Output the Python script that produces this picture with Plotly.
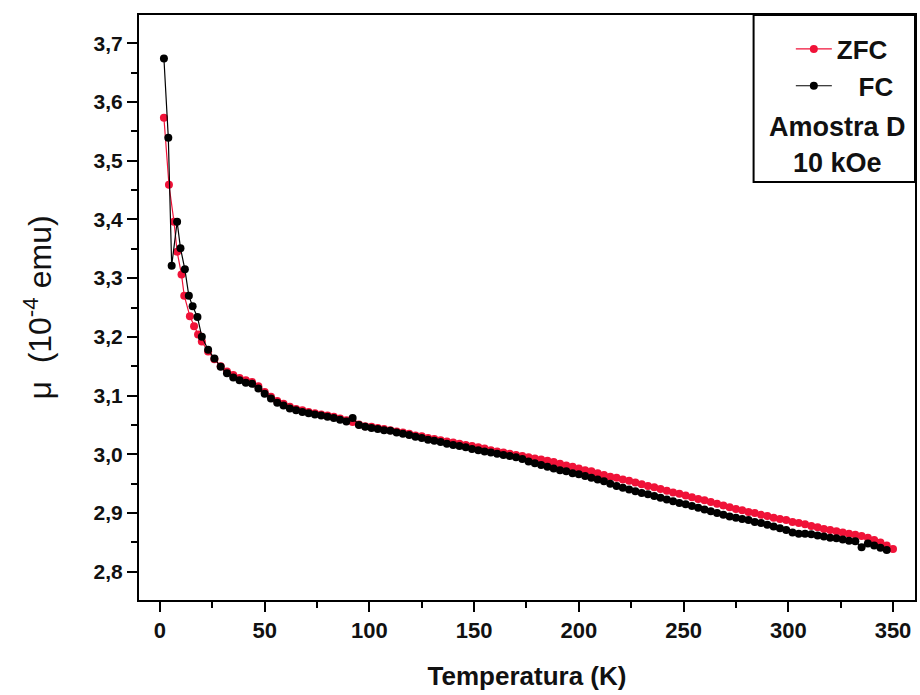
import plotly.graph_objects as go

# ---------------- data ----------------
T_zfc = [1.9, 4.3, 6.7, 8.2, 10.3, 11.6, 14.3, 16.3, 18.2,
         20, 23, 26, 29, 32, 35, 38, 41, 44, 47, 50, 53, 56, 59, 62, 65, 68, 71, 74, 77,
         80, 83, 86, 89, 92, 95, 98, 101, 104, 107, 110, 113, 116, 119, 122, 125, 128, 131,
         134, 137, 140, 143, 146, 149, 152, 155, 158, 161, 164, 167, 170, 173, 176, 179, 182,
         185, 188, 191, 194, 197, 200, 203, 206, 209, 212, 215, 218, 221, 224, 227, 230, 233,
         236, 239, 242, 245, 248, 251, 254, 257, 260, 263, 266, 269, 272, 275, 278, 281, 284,
         287, 290, 293, 296, 299, 302, 305, 308, 311, 314, 317, 320, 323, 326, 329, 332, 335,
         338, 341, 344, 347, 350]
mu_zfc = [3.573, 3.459, 3.396, 3.345, 3.306, 3.270, 3.235, 3.218, 3.204,
          3.192, 3.175, 3.162, 3.150, 3.141, 3.135, 3.130, 3.126, 3.123, 3.116, 3.106, 3.098,
          3.091, 3.086, 3.081, 3.077, 3.075, 3.072, 3.070, 3.068,
          3.066, 3.064, 3.061, 3.058, 3.055, 3.051, 3.048, 3.047, 3.045, 3.043, 3.041, 3.039,
          3.037, 3.035, 3.032, 3.031, 3.028, 3.026,
          3.024, 3.022, 3.020, 3.018, 3.016, 3.014, 3.012, 3.010, 3.007, 3.005, 3.003, 3.001,
          2.999, 2.997, 2.995, 2.993, 2.991,
          2.989, 2.987, 2.984, 2.981, 2.979, 2.976, 2.973, 2.971, 2.968, 2.965, 2.962, 2.960,
          2.957, 2.955, 2.952, 2.949, 2.946,
          2.944, 2.941, 2.938, 2.935, 2.933, 2.930, 2.927, 2.924, 2.922, 2.919, 2.916, 2.913,
          2.910, 2.907, 2.905, 2.902, 2.900,
          2.897, 2.895, 2.892, 2.890, 2.888, 2.885, 2.883, 2.881, 2.878, 2.876, 2.873, 2.871,
          2.869, 2.867, 2.865, 2.863, 2.861,
          2.858, 2.854, 2.850, 2.845, 2.839]

T_fc = [1.9, 4.0, 5.6, 8.2, 9.8, 11.9, 13.8, 15.6, 17.9,
        20, 23, 26, 29, 32, 35, 38, 41, 44, 47, 50, 53, 56, 59, 62, 65, 68, 71, 74, 77,
        80, 83, 86, 89, 92, 95, 98, 101, 104, 107, 110, 113, 116, 119, 122, 125, 128, 131,
        134, 137, 140, 143, 146, 149, 152, 155, 158, 161, 164, 167, 170, 173, 176, 179, 182,
        185, 188, 191, 194, 197, 200, 203, 206, 209, 212, 215, 218, 221, 224, 227, 230, 233,
        236, 239, 242, 245, 248, 251, 254, 257, 260, 263, 266, 269, 272, 275, 278, 281, 284,
        287, 290, 293, 296, 299, 302, 305, 308, 311, 314, 317, 320, 323, 326, 329, 332, 335,
        338, 341, 344, 347, 350]
mu_fc = [3.674, 3.539, 3.321, 3.396, 3.351, 3.315, 3.270, 3.252, 3.234,
         3.200, 3.178, 3.163, 3.149, 3.138, 3.131, 3.126, 3.122, 3.120, 3.112, 3.103, 3.095,
         3.088, 3.083, 3.078, 3.075, 3.072, 3.070, 3.068, 3.066,
         3.064, 3.062, 3.059, 3.056, 3.062, 3.050, 3.047, 3.045, 3.043, 3.041, 3.040, 3.037,
         3.035, 3.033, 3.030, 3.028, 3.025, 3.023,
         3.021, 3.018, 3.016, 3.014, 3.012, 3.009, 3.007, 3.005, 3.003, 3.001, 2.999, 2.997,
         2.995, 2.992, 2.988, 2.985, 2.982,
         2.979, 2.976, 2.973, 2.971, 2.968, 2.966, 2.963, 2.960, 2.957, 2.954, 2.950, 2.946,
         2.943, 2.940, 2.937, 2.934, 2.932,
         2.929, 2.926, 2.923, 2.920, 2.917, 2.915, 2.912, 2.909, 2.906, 2.903, 2.900, 2.897,
         2.894, 2.892, 2.890, 2.888, 2.885,
         2.883, 2.880, 2.877, 2.874, 2.871, 2.867, 2.865, 2.865, 2.864, 2.862, 2.860, 2.858,
         2.857, 2.855, 2.853, 2.852,
         2.842, 2.848, 2.845, 2.841, 2.837]

x_ticks = [0, 50, 100, 150, 200, 250, 300, 350]
y_ticks = [2.8, 2.9, 3.0, 3.1, 3.2, 3.3, 3.4, 3.5, 3.6, 3.7]
x_range = [-10, 360.5]
y_range = [2.752, 3.748]

sample_lines = ["Amostra D", "10 kOe"]

# ---------------- figure ----------------
RED = "#f01238"
FONT = "Liberation Sans, Arial, sans-serif"

fig = go.Figure()
fig.add_trace(go.Scatter(
    x=T_zfc, y=mu_zfc, name="ZFC", mode="lines+markers", legendgroup="zfc",
    line=dict(color=RED, width=1.2),
    marker=dict(color=RED, size=8, symbol="circle"),
))
fig.add_trace(go.Scatter(
    x=T_fc, y=mu_fc, name="\u00a0\u00a0\u00a0FC", mode="lines+markers", legendgroup="fc",
    line=dict(color="black", width=1.2),
    marker=dict(color="black", size=8, symbol="circle"),
))

axis_common = dict(
    showline=True, linecolor="black", linewidth=2, mirror=True,
    ticks="outside", ticklen=10, tickwidth=2, tickcolor="black",
    showgrid=False, zeroline=False,
)

fig.update_layout(
    width=920, height=695,
    margin=dict(l=139, r=3, t=15, b=95),
    paper_bgcolor="white", plot_bgcolor="white",
    separators=",.",
    font=dict(family=FONT, color="#111"),
    xaxis=dict(
        range=x_range, tickvals=x_ticks, ticktext=[str(v) for v in x_ticks],
        tickfont=dict(family=FONT, size=22, color="#111", weight="bold"),
        minor=dict(dtick=25, tick0=0, ticks="outside", ticklen=6, tickwidth=2, tickcolor="black"),
        title=dict(text="Temperatura (K)", standoff=24,
                   font=dict(family=FONT, size=26, color="#111", weight="bold")),
        **axis_common,
    ),
    yaxis=dict(
        range=y_range, tickvals=y_ticks, tickformat=".1f",
        tickfont=dict(family=FONT, size=21, color="#111", weight="bold"),
        minor=dict(dtick=0.05, tick0=2.8, ticks="outside", ticklen=6, tickwidth=2, tickcolor="black"),
        title=dict(text="\u03bc  (10<sup>-4</sup> emu)", standoff=32,
                   font=dict(family=FONT, size=32, color="#111")),
        **axis_common,
    ),
    showlegend=True,
    legend=dict(
        x=0.84, y=0.982, xanchor="left", yanchor="top",
        bgcolor="rgba(0,0,0,0)", borderwidth=0,
        font=dict(family=FONT, size=26, color="#111", weight="bold"),
        traceorder="grouped", tracegroupgap=0, itemwidth=36,
    ),
)

# legend box
fig.add_shape(type="rect", xref="paper", yref="paper",
              x0=0.792, x1=1.0, y0=0.7145, y1=1.0,
              line=dict(color="black", width=2), fillcolor="rgba(0,0,0,0)")

for txt, yy in zip(sample_lines, [0.8085, 0.747]):
    fig.add_annotation(text=txt, xref="paper", yref="paper", x=0.90, y=yy,
                       showarrow=False, xanchor="center", yanchor="middle",
                       font=dict(family=FONT, size=27, color="#111", weight="bold"))

fig.write_html("out.html", config={"displayModeBar": False},
               post_script="document.body.style.margin='0';document.body.style.overflow='hidden';")
